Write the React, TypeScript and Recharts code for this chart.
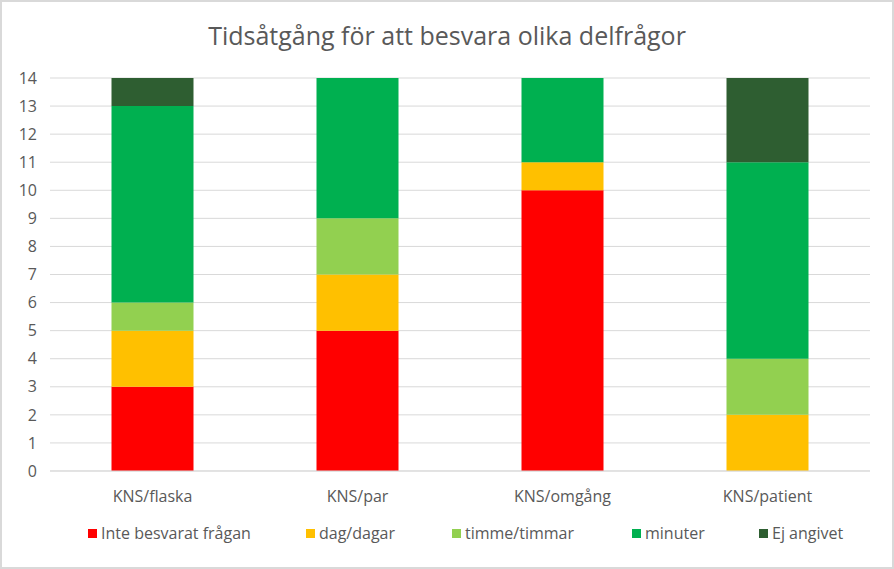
import React from 'react';
import { BarChart, Bar, XAxis, YAxis, CartesianGrid } from 'recharts';

const categories = ['KNS/flaska', 'KNS/par', 'KNS/omgång', 'KNS/patient'];
const inteBesvarat = [3, 5, 10, 0];
const dagDagar = [2, 2, 1, 2];
const timmeTimmar = [1, 2, 0, 2];
const minuter = [7, 5, 3, 7];
const ejAngivet = [1, 0, 0, 3];
const yTicks = [0, 1, 2, 3, 4, 5, 6, 7, 8, 9, 10, 11, 12, 13, 14];

const series = [
  { key: 'inte', name: 'Inte besvarat frågan', color: '#FF0000', values: inteBesvarat },
  { key: 'dag', name: 'dag/dagar', color: '#FFC000', values: dagDagar },
  { key: 'timme', name: 'timme/timmar', color: '#92D050', values: timmeTimmar },
  { key: 'minuter', name: 'minuter', color: '#00B050', values: minuter },
  { key: 'ej', name: 'Ej angivet', color: '#2E5E31', values: ejAngivet },
];

const data = categories.map((cat, i) => {
  const row: Record<string, string | number> = { cat };
  series.forEach((s) => {
    row[s.key] = s.values[i];
  });
  return row;
});

const FONT = '"Open Sans", "Noto Sans", sans-serif';
const TEXT = '#595959';
const legendLeft = [88, 306, 452, 632, 759];

const ChartLegend = () => (
  <div style={{ position: 'absolute', left: -2, top: 520, width: 894, height: 24 }}>
    {series.map((s, i) => (
      <div
        key={s.key}
        style={{
          position: 'absolute',
          left: legendLeft[i],
          top: 0,
          display: 'flex',
          alignItems: 'center',
          fontFamily: FONT,
          fontSize: 16,
          color: TEXT,
          whiteSpace: 'nowrap',
        }}
      >
        <span style={{ width: 9, height: 9, background: s.color, marginRight: 4, display: 'inline-block' }} />
        {s.name}
      </div>
    ))}
  </div>
);

export default function App() {
  return (
    <div
      style={{
        position: 'absolute',
        left: 0,
        top: 0,
        width: 894,
        height: 569,
        boxSizing: 'border-box',
        border: '2px solid #D9D9D9',
        background: '#fff',
      }}
    >
      <div
        style={{
          position: 'absolute',
          left: 0,
          top: 16,
          width: 890,
          textAlign: 'center',
          fontFamily: FONT,
          fontSize: 25,
          color: TEXT,
        }}
      >
        Tidsåtgång för att besvara olika delfrågor
      </div>
      <div style={{ position: 'absolute', left: -2, top: -2 }}>
        <BarChart
          width={894}
          height={569}
          data={data}
          margin={{ top: 78, right: 24, left: 0, bottom: 68 }}
          barCategoryGap="30%"
        >
          <CartesianGrid vertical={false} stroke="#D9D9D9" />
          <XAxis
            dataKey="cat"
            height={30}
            tickLine={false}
            axisLine={{ stroke: '#D9D9D9' }}
            tick={{ fill: TEXT, fontSize: 16, fontFamily: FONT }}
            tickMargin={14}
          />
          <YAxis
            width={50}
            domain={[0, 14]}
            ticks={yTicks}
            interval={0}
            tickLine={false}
            axisLine={false}
            tickSize={0}
            tickMargin={13}
            tick={{ fill: TEXT, fontSize: 16, fontFamily: FONT }}
          />
          {series.map((s) => (
            <Bar key={s.key} dataKey={s.key} name={s.name} stackId="a" fill={s.color} isAnimationActive={false} />
          ))}
        </BarChart>
      </div>
      <ChartLegend />
    </div>
  );
}
